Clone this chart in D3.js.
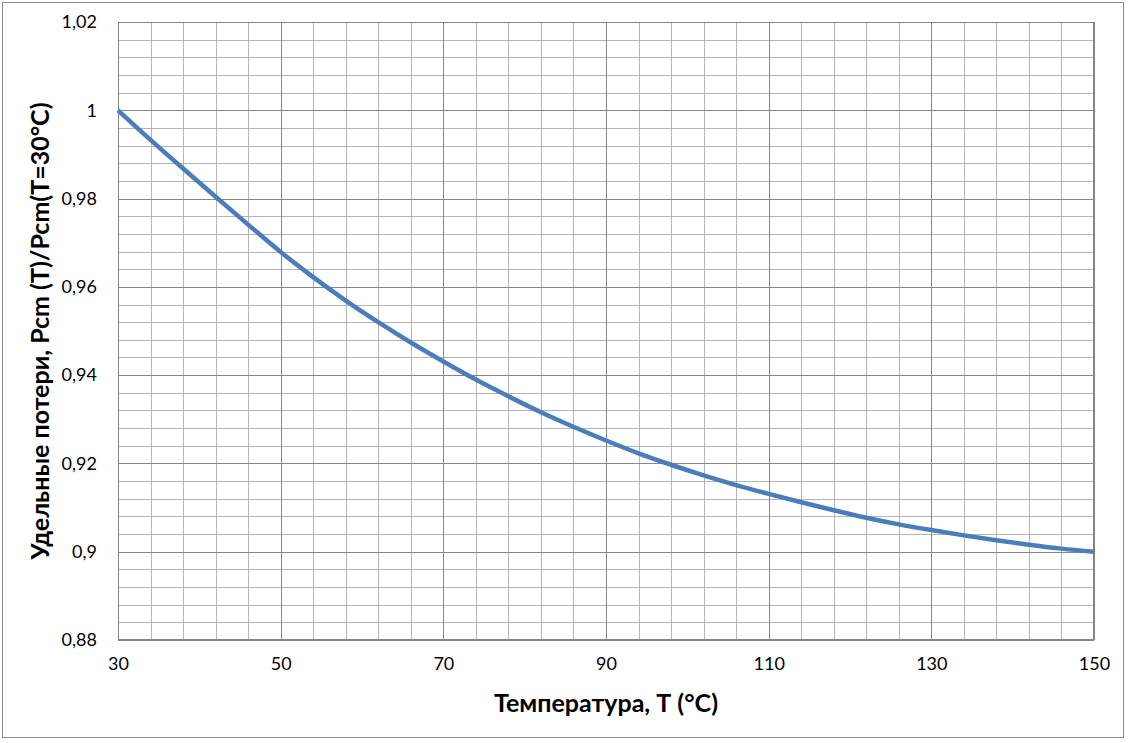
<!DOCTYPE html>
<html>
<head>
<meta charset="utf-8">
<script src="https://cdn.jsdelivr.net/npm/d3@7"></script>
<style>
  html, body { margin: 0; padding: 0; background: #fff; }
  svg { display: block; }
</style>
</head>
<body>
<svg id="chart" width="1132" height="743"></svg>
<script>
// ---- data ----
const temperatures = [30, 34, 38, 42, 46, 50, 54, 58, 62, 66, 70, 74, 78, 82, 86, 90, 94, 98, 102, 106, 110, 114, 118, 122, 126, 130, 134, 138, 142, 146, 150];
const lossRatio = [1.0, 0.9933, 0.9868, 0.9804, 0.9741, 0.9679, 0.9622, 0.9569, 0.9520, 0.9474, 0.9431, 0.9390, 0.9352, 0.9316, 0.9283, 0.9252, 0.9223, 0.9197, 0.9173, 0.9151, 0.9131, 0.9112, 0.9094, 0.9077, 0.9062, 0.9049, 0.9037, 0.9026, 0.9016, 0.9007, 0.9000];
const xTicks = [30, 50, 70, 90, 110, 130, 150];
const yTicks = [0.88, 0.9, 0.92, 0.94, 0.96, 0.98, 1.0, 1.02];
const xTitle = "Температура, Т (°С)";
const yTitle = "Удельные потери, Pcm (T)/Pcm(T=30°C)";

// ---- layout ----
const svg = d3.select("#chart");
const plot = { left: 118, right: 1094, top: 22, bottom: 640 };

const x = d3.scaleLinear().domain([30, 150]).range([plot.left, plot.right]);
const y = d3.scaleLinear().domain([0.88, 1.02]).range([plot.bottom, plot.top]);

const fmt = v => String(+v.toFixed(2)).replace(".", ",");
const FONT = "Lato, 'Open Sans', sans-serif";

// outer frame
svg.append("rect")
  .attr("x", 2.5).attr("y", 2.5).attr("width", 1121).attr("height", 735)
  .attr("fill", "#fff").attr("stroke", "#8c8c8c").attr("stroke-width", 1);

// minor grid
const xMinor = d3.range(30, 150.001, 4);
const yMinor = d3.range(0, 36).map(i => 0.88 + i * 0.004);
const g = svg.append("g").attr("shape-rendering", "crispEdges");
g.selectAll(".xminor").data(xMinor).join("line")
  .attr("x1", d => Math.round(x(d)) + 0.5).attr("x2", d => Math.round(x(d)) + 0.5)
  .attr("y1", plot.top).attr("y2", plot.bottom)
  .attr("stroke", "#b4b4b4").attr("stroke-width", 1);
g.selectAll(".yminor").data(yMinor).join("line")
  .attr("y1", d => Math.round(y(d)) + 0.5).attr("y2", d => Math.round(y(d)) + 0.5)
  .attr("x1", plot.left).attr("x2", plot.right)
  .attr("stroke", "#b4b4b4").attr("stroke-width", 1);

// major grid via axes
const xAxis = d3.axisBottom(x).tickValues(xTicks).tickSize(-(plot.bottom - plot.top)).tickFormat(d => d).tickPadding(17);
const yAxis = d3.axisLeft(y).tickValues(yTicks).tickSize(-(plot.right - plot.left)).tickFormat(fmt).tickPadding(21);

const gx = svg.append("g").attr("transform", `translate(0,${plot.bottom})`).call(xAxis);
const gy = svg.append("g").attr("transform", `translate(${plot.left},0)`).call(yAxis);
[gx, gy].forEach(a => {
  a.select(".domain").remove();
  a.selectAll(".tick line").attr("stroke", "#868686").attr("shape-rendering", "crispEdges");
  a.selectAll(".tick text")
    .attr("font-family", FONT)
    .attr("font-size", 18).attr("fill", "#000");
});

// plot border
svg.append("rect")
  .attr("x", plot.left + 0.5).attr("y", plot.top + 0.5)
  .attr("width", plot.right - plot.left - 1).attr("height", plot.bottom - plot.top - 1)
  .attr("fill", "none").attr("stroke", "#868686").attr("shape-rendering", "crispEdges");

// line
const data = temperatures.map((t, i) => ({ t, v: lossRatio[i] }));
svg.append("path")
  .datum(data)
  .attr("fill", "none")
  .attr("stroke", "#4a7ebb")
  .attr("stroke-width", 4.5)
  .attr("stroke-linejoin", "round")
  .attr("d", d3.line().x(d => x(d.t)).y(d => y(d.v)).curve(d3.curveMonotoneX));

// titles
svg.append("text")
  .attr("x", (plot.left + plot.right) / 2).attr("y", 712)
  .attr("text-anchor", "middle")
  .attr("font-family", FONT)
  .attr("font-weight", "bold").attr("font-size", 25)
  .text(xTitle);

svg.append("text")
  .attr("transform", `translate(49,${(plot.top + plot.bottom) / 2}) rotate(-90)`)
  .attr("text-anchor", "middle")
  .attr("font-family", FONT)
  .attr("font-weight", "bold").attr("font-size", 25)
  .text(yTitle);
</script>
</body>
</html>
